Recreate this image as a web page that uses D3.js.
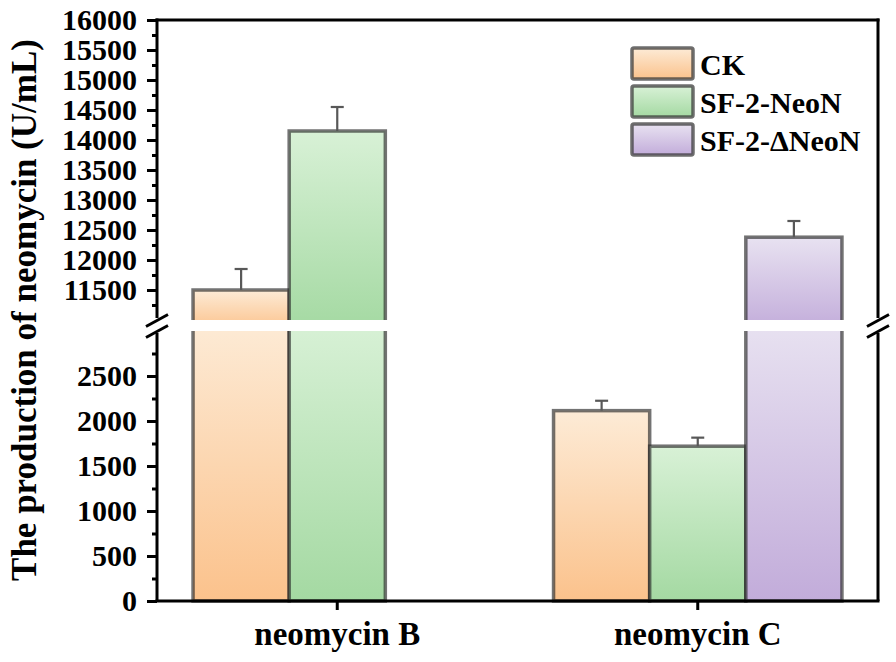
<!DOCTYPE html>
<html><head><meta charset="utf-8">
<script src="https://cdn.jsdelivr.net/npm/d3@7"></script>
<style>body{margin:0;background:#fff}svg{display:block}</style>
</head><body>
<script>
const categories = ["neomycin B", "neomycin C"];
const seriesNames = ["CK", "SF-2-NeoN", "SF-2-ΔNeoN"];
const ckValues = [11500, 2115];
const neonValues = [14150, 1720];
const dneonValues = [null, 12380];
const ckErrors = [350, 110];
const neonErrors = [400, 95];
const dneonErrors = [null, 270];
const upperTicks = [11500,12000,12500,13000,13500,14000,14500,15000,15500,16000];
const upperMinor = [11250,11750,12250,12750,13250,13750,14250,14750,15250,15750];
const lowerTicks = [0,500,1000,1500,2000,2500];
const lowerMinor = [250,750,1250,1750,2250,2750];

const W = 896, H = 662;
const L = 157, R = 878, T = 20, B = 601;
const breakHi = 320, breakLo = 331;
const font = "'Liberation Serif','Times New Roman',serif";
const colorsTop = ["#fdebd6", "#d8f1d6", "#e8e2f1"];
const colorsBot = ["#fbc28c", "#a4d9a2", "#c2acda"];

const svg = d3.select("body").append("svg").attr("width", W).attr("height", H);
const defs = svg.append("defs");
seriesNames.forEach((s, i) => {
  const g = defs.append("linearGradient").attr("id", "g" + i).attr("x1", 0).attr("y1", 0).attr("x2", 0).attr("y2", 1);
  g.append("stop").attr("offset", 0).attr("stop-color", colorsTop[i]);
  g.append("stop").attr("offset", 1).attr("stop-color", colorsBot[i]);
});
defs.append("clipPath").attr("id", "clipHi").append("rect").attr("x", 0).attr("y", 0).attr("width", W).attr("height", breakHi);
defs.append("clipPath").attr("id", "clipLo").append("rect").attr("x", 0).attr("y", breakLo).attr("width", W).attr("height", H - breakLo);

const yHi = d3.scaleLinear().domain([11000, 16000]).range([breakHi, T]);
const yLo = d3.scaleLinear().domain([0, 3000]).range([B, breakLo]);
const x0 = d3.scaleBand().domain(categories).range([L, R]).paddingInner(0.2).paddingOuter(0.1);
const x1 = d3.scaleBand().domain(seriesNames).range([0, x0.bandwidth()]);

const data = [];
const vals = [ckValues, neonValues, dneonValues];
const errs = [ckErrors, neonErrors, dneonErrors];
categories.forEach((c, ci) => {
  seriesNames.forEach((s, si) => {
    if (vals[si][ci] != null) data.push({c, s, si, v: vals[si][ci], e: errs[si][ci]});
  });
});

const stroke = "rgba(40,40,40,0.65)";
const lo = svg.append("g").attr("clip-path", "url(#clipLo)");
lo.selectAll("rect").data(data).join("rect")
  .attr("x", d => x0(d.c) + x1(d.s))
  .attr("width", x1.bandwidth())
  .attr("y", d => d.v > 3000 ? breakLo - 10 : yLo(d.v))
  .attr("height", d => (d.v > 3000 ? B - breakLo + 10 : B - yLo(d.v)))
  .attr("fill", d => `url(#g${d.si})`)
  .attr("stroke", stroke).attr("stroke-width", 3.5);
const hi = svg.append("g").attr("clip-path", "url(#clipHi)");
hi.selectAll("rect").data(data.filter(d => d.v > 3000)).join("rect")
  .attr("x", d => x0(d.c) + x1(d.s))
  .attr("width", x1.bandwidth())
  .attr("y", d => yHi(d.v))
  .attr("height", d => breakHi + 10 - yHi(d.v))
  .attr("fill", d => `url(#g${d.si})`)
  .attr("stroke", stroke).attr("stroke-width", 3.5);

const ys = d => d.v > 3000 ? yHi : yLo;
const eb = svg.append("g").attr("stroke", "#585858").attr("stroke-width", 2.2).attr("fill", "none");
data.forEach(d => {
  const cx = x0(d.c) + x1(d.s) + x1.bandwidth() / 2;
  const y = ys(d);
  eb.append("line").attr("x1", cx).attr("x2", cx).attr("y1", y(d.v)).attr("y2", y(d.v + d.e));
  eb.append("line").attr("x1", cx - 6.5).attr("x2", cx + 6.5).attr("y1", y(d.v + d.e)).attr("y2", y(d.v + d.e));
});

function styleAxis(g) {
  g.selectAll(".domain").remove();
  g.selectAll(".tick line").attr("stroke", "#000").attr("stroke-width", 3);
  g.selectAll(".tick text").attr("font-family", font).attr("font-weight", "bold").attr("font-size", 30).attr("fill", "#000");
}
svg.append("g").attr("transform", `translate(${L},0)`)
  .call(d3.axisLeft(yHi).tickValues(upperTicks).tickSize(10).tickPadding(10).tickFormat(d3.format("d"))).call(styleAxis);
svg.append("g").attr("transform", `translate(${L},0)`)
  .call(d3.axisLeft(yHi).tickValues(upperMinor).tickSize(5).tickFormat("")).call(styleAxis);
svg.append("g").attr("transform", `translate(${L},0)`)
  .call(d3.axisLeft(yLo).tickValues(lowerTicks).tickSize(10).tickPadding(10).tickFormat(d3.format("d"))).call(styleAxis);
svg.append("g").attr("transform", `translate(${L},0)`)
  .call(d3.axisLeft(yLo).tickValues(lowerMinor).tickSize(5).tickFormat("")).call(styleAxis);
const xa = svg.append("g").attr("transform", `translate(0,${B})`)
  .call(d3.axisBottom(x0).tickSize(9).tickPadding(12)).call(styleAxis);
xa.selectAll(".tick text").attr("font-size", 33).attr("dy", "0.71em");

const fr = svg.append("g").attr("stroke", "#000").attr("stroke-width", 3).attr("fill", "none");
fr.append("line").attr("x1", L).attr("x2", L).attr("y1", T - 1.5).attr("y2", breakHi - 2);
fr.append("line").attr("x1", L).attr("x2", L).attr("y1", breakLo + 2).attr("y2", B);
fr.append("line").attr("x1", R).attr("x2", R).attr("y1", T - 1.5).attr("y2", breakHi - 2);
fr.append("line").attr("x1", R).attr("x2", R).attr("y1", breakLo + 2).attr("y2", B);
fr.append("line").attr("x1", L - 1.5).attr("x2", R + 1.5).attr("y1", T).attr("y2", T);
fr.append("line").attr("x1", L - 1.5).attr("x2", R + 1.5).attr("y1", B).attr("y2", B);
[L, R].forEach(xx => {
  [breakHi + 0.5, breakLo + 0.5].forEach(yy => {
    fr.append("line").attr("x1", xx - 11).attr("y1", yy + 6).attr("x2", xx + 11).attr("y2", yy - 6);
  });
});

svg.append("text").attr("transform", `translate(36,310) rotate(-90)`)
  .attr("text-anchor", "middle").attr("font-family", font).attr("font-weight", "bold")
  .attr("font-size", 35).text("The production of neomycin (U/mL)");

const lg = svg.append("g");
seriesNames.forEach((s, i) => {
  const y = 48 + i * 38;
  lg.append("rect").attr("x", 632).attr("y", y).attr("width", 61).attr("height", 31).attr("rx", 2)
    .attr("fill", `url(#g${i})`).attr("stroke", "rgba(60,60,60,0.75)").attr("stroke-width", 3.5);
  lg.append("text").attr("x", 700).attr("y", y + 27).attr("font-family", font).attr("font-weight", "bold")
    .attr("font-size", 30).text(s);
});
</script>
</body></html>
